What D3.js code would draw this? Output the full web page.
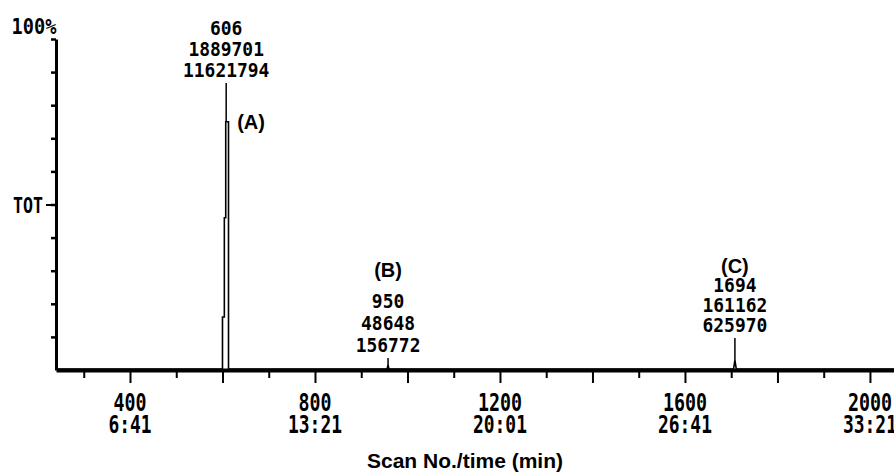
<!DOCTYPE html>
<html>
<head>
<meta charset="utf-8">
<script src="https://cdnjs.cloudflare.com/ajax/libs/d3/7.8.5/d3.min.js"></script>
<style>
body{margin:0;background:#fff;}
svg{display:block;}
.mono{font-family:"DejaVu Sans Mono",monospace;font-weight:bold;fill:#000;}
.sans{font-family:"Liberation Sans",Arial,sans-serif;font-weight:bold;fill:#000;}
</style>
</head>
<body>
<svg id="chart" width="894" height="476"></svg>
<script>

// TIC trace: scan no. and % of full scale
var traceScan = [240, 600, 600, 604, 604, 607, 607, 613, 613, 956, 958, 960, 1705, 1708, 1711, 2052];
var traceVal  = [0.3, 0.3, 16,  16,  46,  46,  75,  75,  0.3, 0.3, 1.5, 0.3, 0.3,  3,    0.3,  0.3];

// peak annotations
var peakName   = ["(A)", "(B)", "(C)"];
var peakScan   = [606, 950, 1694];
var peakHeight = [1889701, 48648, 161162];
var peakArea   = [11621794, 156772, 625970];
var peakApex   = [608, 958, 1708];   // where the apex is drawn on the scan axis
var peakTop    = [75, 1.5, 3];

// x axis labels
var xLabelScan = [400, 800, 1200, 1600, 2000];
var xLabelTime = ["6:41", "13:21", "20:01", "26:41", "33:21"];

var svg = d3.select("#chart");

var x = d3.scaleLinear().domain([240, 2052]).range([56, 894]);
var y = d3.scaleLinear().domain([0, 100]).range([370, 39]);

// pixel-font text, squeezed to a fixed width per character
function mono(g, str, px, py, size, charW) {
    return g.append("text").attr("class", "mono")
        .attr("x", px).attr("y", py)
        .attr("text-anchor", "middle")
        .attr("font-size", size)
        .attr("textLength", String(str).length * charW)
        .attr("lengthAdjust", "spacingAndGlyphs")
        .text(str);
}

// ---- x axis: minor ticks each 100 scans, long ticks each 200
var minor = d3.range(300, 2100, 200);
var major = d3.range(400, 2100, 200);

var xMinor = svg.append("g").attr("transform", "translate(0,370)")
    .call(d3.axisBottom(x).tickValues(minor).tickSize(8).tickSizeOuter(0).tickFormat(""));
var xMajor = svg.append("g").attr("transform", "translate(0,370)")
    .call(d3.axisBottom(x).tickValues(major).tickSize(13).tickSizeOuter(0).tickFormat(""));
xMinor.call(g => g.select(".domain").remove());
xMajor.call(g => g.select(".domain").attr("stroke-width", 4));
svg.selectAll(".tick line").attr("stroke-width", 2);

xLabelScan.forEach(function (s, i) {
    mono(svg, s, x(s), 411, 24, 11);
    mono(svg, xLabelTime[i], x(s), 433, 24, 10.8);
});

svg.append("text").attr("class", "sans")
    .attr("x", 465).attr("y", 468)
    .attr("text-anchor", "middle")
    .attr("font-size", 21)
    .text("Scan No./time (min)");

// ---- y axis
var yAx = svg.append("g").attr("transform", "translate(56,0)")
    .call(d3.axisLeft(y).tickValues(d3.range(10, 101, 10)).tickSize(5).tickSizeOuter(0).tickFormat(""));
yAx.select(".domain").attr("stroke-width", 3);
yAx.selectAll(".tick line").attr("stroke-width", 2.5);

var yTot = svg.append("g").attr("transform", "translate(56,0)")
    .call(d3.axisLeft(y).tickValues([50]).tickSize(10).tickSizeOuter(0).tickFormat(""));
yTot.select(".domain").remove();
yTot.selectAll(".tick line").attr("stroke-width", 2);

mono(svg, "100%", 34, 34, 22, 11.2);
mono(svg, "TOT", 28, y(50) + 8, 22, 10);

// ---- trace
var trace = traceScan.map((s, i) => [s, traceVal[i]]);

svg.append("path")
    .datum(trace)
    .attr("fill", "none")
    .attr("stroke", "#000")
    .attr("stroke-width", 1.6)
    .attr("d", d3.line().x(d => x(d[0])).y(d => y(d[1])));

// ---- peak labels
var layout = [
    {first: 35, gap: 21, name: [11, 129, "start"]},
    {first: 308, gap: 22, name: [0, 277, "middle"]},
    {first: 292, gap: 20, name: [0, 273, "middle"]}
];

peakName.forEach(function (nm, i) {
    var cx = x(peakApex[i]);
    var L = layout[i];
    var g = svg.append("g");
    mono(g, peakScan[i], cx, L.first, 20, 10.8);
    mono(g, peakHeight[i], cx, L.first + L.gap, 20, 10.8);
    mono(g, peakArea[i], cx, L.first + 2 * L.gap, 20, 10.8);

    g.append("line")
        .attr("x1", cx).attr("x2", cx)
        .attr("y1", L.first + 2 * L.gap + 6)
        .attr("y2", y(peakTop[i]))
        .attr("stroke", "#000").attr("stroke-width", 1.5);

    g.append("text").attr("class", "sans")
        .attr("x", cx + L.name[0]).attr("y", L.name[1])
        .attr("text-anchor", L.name[2])
        .attr("font-size", 20)
        .text(nm);
});

</script>
</body>
</html>
